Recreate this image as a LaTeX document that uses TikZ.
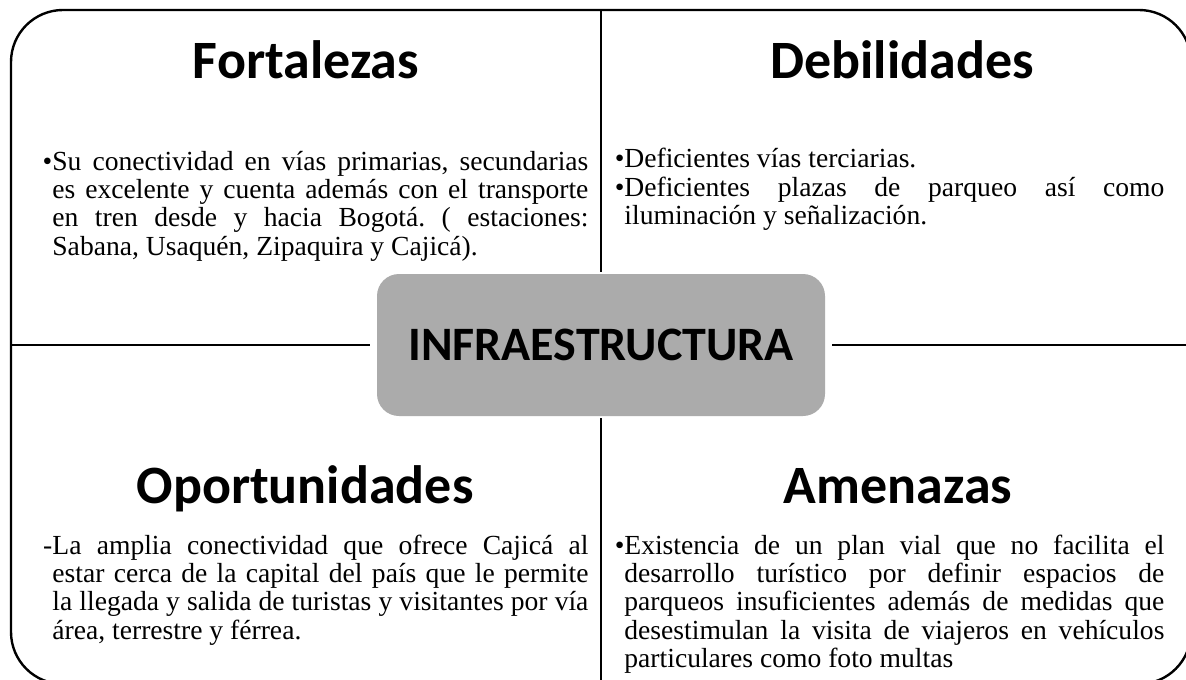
\documentclass[tikz,border=0pt]{standalone}
\usepackage{fontspec}
\setmainfont{Liberation Serif}
\newfontfamily\calibrifont{Carlito}
\usetikzlibrary{positioning}
\definecolor{hubgray}{HTML}{ABABAB}
\hyphenpenalty=10000
\exhyphenpenalty=10000
\tolerance=9999
\frenchspacing
\tikzset{
  frameline/.style={line width=1.2pt},
  crossline/.style={line width=1.4pt},
  quadtitle/.style={inner sep=0pt, anchor=base, font=\calibrifont\bfseries\fontsize{27}{32}\selectfont},
  quadtext/.style={inner sep=0pt, anchor=base west, text width=#1, align=justify, font=\fontsize{13.8}{14.2}\selectfont},
  hubbox/.style={fill=hubgray, rounded corners=11pt, minimum width=224pt, minimum height=71pt, inner sep=0pt, font=\calibrifont\bfseries\fontsize{24}{28}\selectfont}
}
\begin{document}
\begin{tikzpicture}[x=0.5pt,y=-0.5pt]

% page size (px):
\pgfmathsetmacro\pwidth{1186};
\pgfmathsetmacro\pheight{679};
% centre of the matrix:
\pgfmathsetmacro\cx{601};
\pgfmathsetmacro\cy{345};

\useasboundingbox (0,0) rectangle (\pwidth,\pheight);

\newcommand{\itemmark}[1]{\makebox[0pt][r]{#1}}

% outer frame, cut off at the right and bottom
\draw[frameline, rounded corners=26pt] (11,10) rectangle (1191,684);

\node[hubbox] (hub) at (\cx,\cy) {INFRAESTRUCTURA};

\coordinate (ntop) at (\cx,10);
\coordinate (nbot) at (\cx,684);
\coordinate (nleft) at (11,\cy);
\coordinate (nright) at (1191,\cy);
\draw[crossline, shorten >=1pt] (ntop) -- (hub.north);
\draw[crossline, shorten >=1pt] (nbot) -- (hub.south);
\draw[crossline, shorten >=3.5pt] (nleft) -- (hub.west);
\draw[crossline, shorten >=3.5pt] (nright) -- (hub.east);

% quadrant titles
\foreach \name/\tx/\ty in {Fortalezas/306/79, Debilidades/902/79, Oportunidades/305/503, Amenazas/898/503}
  \node[quadtitle] (\name) at (\tx,\ty) {\name};

% quadrant texts
\node[quadtext=268pt] (fortext) at (52,170) {\itemmark{•}Su conectividad en vías primarias, secundarias\linebreak es excelente y cuenta además con el transporte\linebreak en tren desde y hacia Bogotá. ( estaciones:\linebreak Sabana, Usaquén, Zipaquira y Cajicá).};
\node[quadtext=270pt] (debtext) at (624,168) {\itemmark{•}Deficientes vías terciarias.\par
  \itemmark{•}Deficientes plazas de parqueo así como\linebreak iluminación y señalización.};
\node[quadtext=268pt] (optext) at (52,554) {\itemmark{-}La amplia conectividad que ofrece Cajicá al\linebreak estar cerca de la capital del país que le permite\linebreak la llegada y salida de turistas y visitantes por vía\linebreak área, terrestre y férrea.};
\node[quadtext=270pt] (amtext) at (624,554) {\itemmark{•}Existencia de un plan vial que no facilita el\linebreak desarrollo turístico por definir espacios de\linebreak parqueos insuficientes además de medidas que\linebreak desestimulan la visita de viajeros en vehículos\linebreak particulares como foto multas};

\end{tikzpicture}
\end{document}
